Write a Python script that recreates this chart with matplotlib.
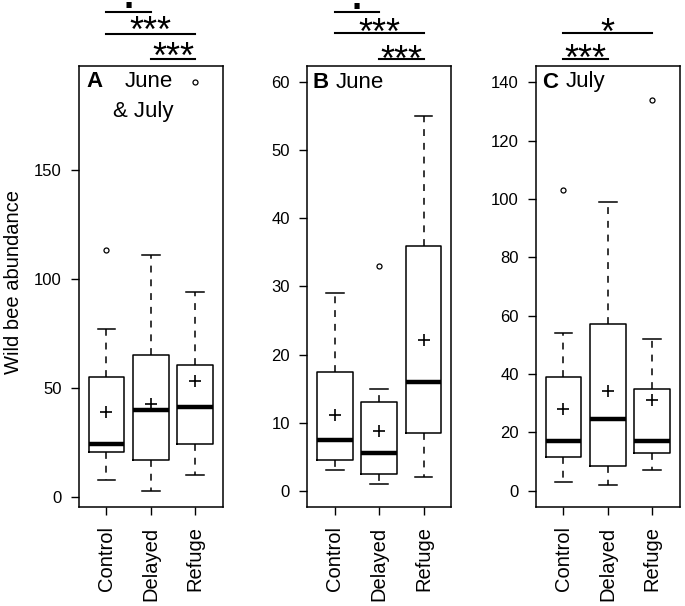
import matplotlib
matplotlib.use("Agg")
import matplotlib.pyplot as plt
from matplotlib import transforms

plt.rcParams['font.family'] = ['Liberation Sans', 'DejaVu Sans']

groups = ['Control', 'Delayed', 'Refuge']

# A: June & July
a_whislo = [8, 3, 10]
a_q1 = [20.5, 17, 24.5]
a_med = [24.5, 40, 41.5]
a_q3 = [55, 65, 60.5]
a_whishi = [77, 111, 94]
a_mean = [39, 42.7, 53]
a_fliers = [[113], [], [190]]
a_ticks = [0, 50, 100, 150]

# B: June
b_whislo = [3, 1, 2]
b_q1 = [4.5, 2.5, 8.5]
b_med = [7.5, 5.5, 16]
b_q3 = [17.5, 13, 36]
b_whishi = [29, 15, 55]
b_mean = [11.1, 8.7, 22.1]
b_fliers = [[], [33], []]
b_ticks = [0, 10, 20, 30, 40, 50, 60]

# C: July
c_whislo = [3, 2, 7]
c_q1 = [11.5, 8.5, 13]
c_med = [17, 24.5, 17]
c_q3 = [39, 57, 35]
c_whishi = [54, 99, 52]
c_mean = [28, 34, 31]
c_fliers = [[103], [], [134]]
c_ticks = [0, 20, 40, 60, 80, 100, 120, 140]

# significance brackets: (from group, to group, label)
a_sig = [(1, 2, '.'), (1, 3, '***'), (2, 3, '***')]
b_sig = [(1, 2, '.'), (1, 3, '***'), (2, 3, '***')]
c_sig = [(1, 3, '*'), (1, 2, '***')]

W, H = 685, 606


def fx(x):
    return x / W


def fy(y):
    return 1 - y / H


def panel(fig, left, ylim, whislo, q1, med, q3, whishi, mean, fliers, ticks, sig, rows, text_rows):
    ax = fig.add_axes([fx(left), fy(507), 143.7 / W, 441 / H])
    stats = []
    for i in range(3):
        stats.append(dict(whislo=whislo[i], q1=q1[i], med=med[i], q3=q3[i],
                          whishi=whishi[i], mean=mean[i], fliers=fliers[i]))
    ax.bxp(stats, positions=[1, 2, 3], widths=0.8, showmeans=True,
           boxprops=dict(color='black', lw=1.1),
           medianprops=dict(color='black', lw=3.2, solid_capstyle='butt'),
           whiskerprops=dict(color='black', lw=1.1, dashes=(4.5, 4.5)),
           capprops=dict(color='black', lw=1.1), capwidths=0.4,
           meanprops=dict(marker='+', markeredgecolor='black', markersize=8, mew=1.2),
           flierprops=dict(marker='o', markerfacecolor='none', markeredgecolor='black',
                           markersize=3.6, mew=0.9))
    ax.set_xlim(0.38, 3.62)
    ax.set_ylim(*ylim)
    ax.set_yticks(ticks)
    ax.set_xticks([1, 2, 3])
    ax.set_xticklabels(groups, rotation=90, fontsize=14.5)
    ax.tick_params(axis='y', labelsize=12, length=6, width=1, pad=6.5)
    ax.tick_params(axis='x', length=6, width=1, pad=8)
    for s in ax.spines.values():
        s.set_linewidth(1.1)

    tr = transforms.blended_transform_factory(ax.transData, fig.transFigure)
    for (a, b, lab), ly, ty in zip(sig, rows, text_rows):
        ax.plot([a, b], [fy(ly), fy(ly)], color='black', lw=1.5,
                transform=tr, clip_on=False)
        ax.text((a + b) / 2, fy(ty), lab, transform=tr, ha='center',
                va='baseline', fontsize=26,
                fontweight='bold' if lab == '.' else 'normal')
    return ax


def main():
    fig = plt.figure(figsize=(6.85, 6.06), dpi=100)

    panel(fig, 79, (-4.5, 197.5), a_whislo, a_q1, a_med, a_q3, a_whishi,
          a_mean, a_fliers, a_ticks, a_sig, [11.7, 33.7, 59.3], [8.5, 42, 68])
    panel(fig, 307.3, (-2.4, 62.4), b_whislo, b_q1, b_med, b_q3, b_whishi,
          b_mean, b_fliers, b_ticks, b_sig, [11.7, 33.2, 58.7], [8.8, 44.2, 70.8])
    panel(fig, 536, (-5.6, 145.6), c_whislo, c_q1, c_med, c_q3, c_whishi,
          c_mean, c_fliers, c_ticks, c_sig, [32.7, 59.3], [44.2, 70.2])

    fig.text(fx(14), fy(281.5), 'Wild bee abundance', rotation=90,
             ha='center', va='center', fontsize=14.5)

    # panel labels
    fs = 16
    fig.text(fx(86), fy(87.3), 'A', fontweight='bold', fontsize=fs, va='baseline')
    fig.text(fx(173.3), fy(87.3), 'June', ha='right', fontsize=fs, va='baseline')
    fig.text(fx(173.3), fy(116.7), '& July', ha='right', fontsize=fs, va='baseline')
    fig.text(fx(312.3), fy(87.5), 'B', fontweight='bold', fontsize=fs, va='baseline')
    fig.text(fx(335.7), fy(87.5), 'June', fontsize=fs, va='baseline')
    fig.text(fx(541.7), fy(87.5), 'C', fontweight='bold', fontsize=fs, va='baseline')
    fig.text(fx(566), fy(87.5), 'July', fontsize=fs, va='baseline')

    fig.savefig("out.png", dpi=100)


if __name__ == "__main__":
    main()
